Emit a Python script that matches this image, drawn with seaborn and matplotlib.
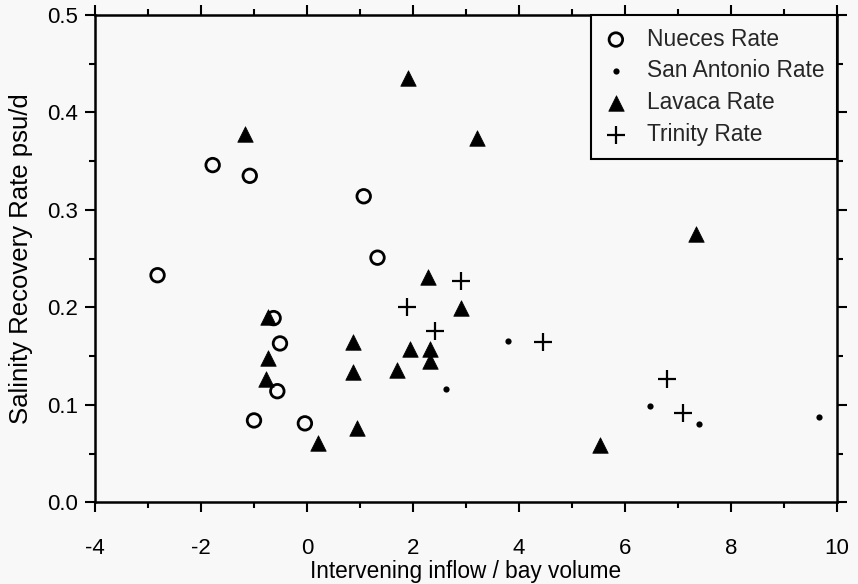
import numpy as np
import pandas as pd
import matplotlib
matplotlib.use("Agg")
import matplotlib.pyplot as plt
from matplotlib.ticker import MultipleLocator, FormatStrFormatter
import seaborn as sns

# ---- data ----
nueces_x = [-2.82, -1.78, -1.08, -0.63, -0.51, -0.56, -1.00, -0.04, 1.07, 1.33]
nueces_y = [0.233, 0.346, 0.335, 0.189, 0.163, 0.114, 0.084, 0.081, 0.314, 0.251]

sanantonio_x = [2.63, 3.80, 6.48, 7.40, 9.66]
sanantonio_y = [0.116, 0.165, 0.099, 0.080, 0.088]

lavaca_x = [-1.17, -0.73, -0.73, -0.78, 0.94, 0.21, 0.86, 0.86, 1.94, 1.69,
            2.33, 2.33, 2.28, 2.90, 3.20, 7.34, 5.53, 1.90]
lavaca_y = [0.378, 0.190, 0.148, 0.127, 0.076, 0.061, 0.164, 0.134, 0.157, 0.136,
            0.157, 0.145, 0.231, 0.199, 0.3735, 0.275, 0.059, 0.435]

trinity_x = [1.89, 2.42, 2.90, 4.45, 6.79, 7.09]
trinity_y = [0.200, 0.176, 0.227, 0.164, 0.127, 0.092]

series_labels = ["Nueces Rate", "San Antonio Rate", "Lavaca Rate", "Trinity Rate"]
x_label = "Intervening inflow / bay volume"
y_label = "Salinity Recovery Rate psu/d"

# ---- style ----
sns.set_theme(style="ticks")
plt.rcParams["font.family"] = ["Liberation Sans", "DejaVu Sans"]
plt.rcParams["axes.unicode_minus"] = False
bg = "#f8f8f8"

fig = plt.figure(figsize=(8.58, 5.84), dpi=100, facecolor=bg)
ax = fig.add_axes([95 / 858, 1 - 502.3 / 584, (837 - 95) / 858, (502.3 - 15) / 584])
ax.set_facecolor(bg)

sns.scatterplot(x=nueces_x, y=nueces_y, ax=ax, marker="o", s=95,
                facecolors="none", edgecolor="black", linewidth=2.0,
                label=series_labels[0], zorder=3)
sns.scatterplot(x=sanantonio_x, y=sanantonio_y, ax=ax, marker="o", s=20,
                color="black", edgecolor="black", linewidth=0,
                label=series_labels[1], zorder=3)
sns.scatterplot(x=lavaca_x, y=lavaca_y, ax=ax, marker="^", s=125,
                color="black", edgecolor="black", linewidth=0.5,
                label=series_labels[2], zorder=3)
sns.scatterplot(x=trinity_x, y=trinity_y, ax=ax, marker="+", s=150,
                color="black", linewidth=1.6,
                label=series_labels[3], zorder=3)

ax.set_xlim(-4, 10)
ax.set_ylim(0.0, 0.5)
ax.xaxis.set_major_locator(MultipleLocator(2))
ax.xaxis.set_minor_locator(MultipleLocator(1))
ax.yaxis.set_major_locator(MultipleLocator(0.1))
ax.yaxis.set_minor_locator(MultipleLocator(0.05))
ax.yaxis.set_major_formatter(FormatStrFormatter("%.1f"))

for s in ax.spines.values():
    s.set_visible(True)
    s.set_linewidth(1.8)
    s.set_color("black")

ax.tick_params(which="both", direction="out", top=True, right=True,
               color="black", width=1.5, labelsize=16, labelcolor="black")
ax.tick_params(which="major", length=7.5)
ax.tick_params(which="minor", length=4)
ax.tick_params(axis="x", which="major", pad=18)
ax.tick_params(axis="y", which="major", pad=5)

ax.set_xlabel(x_label, fontsize=16.3, color="black", labelpad=1)
ax.set_ylabel(y_label, fontsize=18.5, color="black", labelpad=10)

leg = ax.legend(loc="upper right", bbox_to_anchor=(1.0, 1.0), borderaxespad=0,
                fontsize=16.4, frameon=True, fancybox=False, framealpha=1,
                edgecolor="black", facecolor=bg, scatterpoints=1,
                handletextpad=0.8, labelspacing=0.39, borderpad=0.55,
                handlelength=1.12)
leg.get_frame().set_linewidth(1.5)

fig.savefig("out.png", dpi=100, facecolor=bg)
